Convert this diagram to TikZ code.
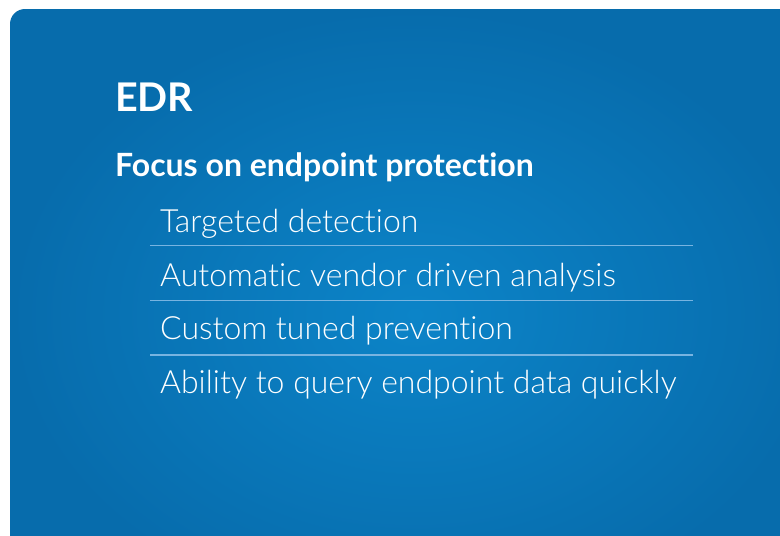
\documentclass[tikz,border=0pt]{standalone}
\usepackage{fontspec}
\setmainfont{Lato}[Ligatures=NoCommon]
\newfontfamily\lightfont{Lato Light}[Ligatures=NoCommon]
\newfontfamily\boldfont{Lato Bold}[Ligatures=NoCommon]
\definecolor{bginner}{RGB}{12,132,200}
\definecolor{bgouter}{RGB}{7,108,172}
\definecolor{rulecol}{RGB}{120,180,225}
\begin{document}
\begin{tikzpicture}[x=1pt,y=-1pt,
  title/.style={anchor=base west,inner sep=0pt,text=white,font=\boldfont\fontsize{39.5}{42}\selectfont},
  subtitle/.style={anchor=base west,inner sep=0pt,text=white,font=\boldfont\fontsize{32}{36}\selectfont},
  item/.style={anchor=base west,inner sep=0pt,text=white,font=\lightfont\fontsize{32}{36}\selectfont},
  sep/.style={draw=rulecol,line width=1.3pt}]
\useasboundingbox (0,0) rectangle (780,536);
\fill[white] (0,0) rectangle (780,536);
\begin{scope}
\clip (0,0) rectangle (780,536);
\shade[inner color=bginner,outer color=bgouter,rounded corners=15pt] (10,9) rectangle (820,620);
\end{scope}
\node[title] (edr) at (115,111) {EDR};
\node[subtitle] (focus) at (115,176) {Focus on endpoint protection};
\node[item] (i1) at (160,232) {Targeted detection};
\node[item] (i2) at (160,286) {Automatic vendor driven analysis};
\node[item] (i3) at (160,339) {Custom tuned prevention};
\node[item] (i4) at (160,393) {Ability to query endpoint data quickly};
\coordinate (l1a) at (150,245.5); \coordinate (l1b) at (693,245.5);
\coordinate (l2a) at (150,300.5); \coordinate (l2b) at (693,300.5);
\coordinate (l3a) at (150,355);   \coordinate (l3b) at (693,355);
\draw[sep] (l1a) -- (l1b);
\draw[sep] (l2a) -- (l2b);
\draw[sep] (l3a) -- (l3b);
\end{tikzpicture}
\end{document}
